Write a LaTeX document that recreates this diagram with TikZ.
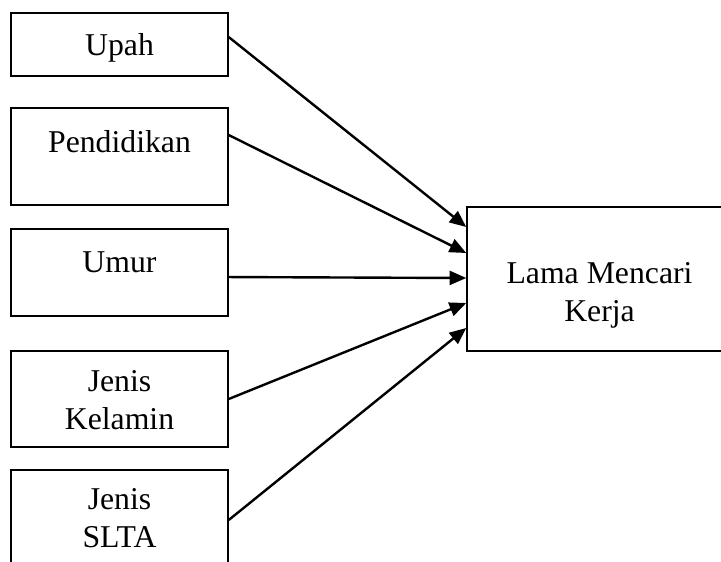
\documentclass[tikz,border=0pt]{standalone}
\usepackage{fontspec}
\setmainfont{Liberation Serif}
\usepackage{tikz}
\usetikzlibrary{arrows.meta}
\usetikzlibrary{positioning}

\begin{document}
\begin{tikzpicture}[x=0.75pt, y=-0.75pt,
  box/.style={draw, line width=1.1pt, minimum width=162.75pt, inner sep=0pt},
  txt/.style={font=\fontsize{23.8pt}{28.5pt}\selectfont, align=center, inner sep=0pt},
  arr/.style={line width=1.8pt, -{Triangle[length=12.5pt, width=10.5pt]}}]

  \useasboundingbox (0,0) rectangle (721,561);

  % ---------- Left side (factors) ----------

  % Shapes
  \node[box, minimum height=47.25pt] at (119.5, 44.5) (upah) {};
  \node[box, minimum height=72.75pt] at (119.5, 156.5) (pendidikan) {};
  \node[box, minimum height=65.25pt] at (119.5, 272.5) (umur) {};
  \node[box, minimum height=72pt] at (119.5, 399) (kelamin) {};
  \node[box, minimum height=73.5pt] at (119.5, 519) (slta) {};

  % Labels
  \node[txt, anchor=base] at (119.5, 55) (upahT) {Upah};
  \node[txt, anchor=base] at (119.5, 152) (pendidikanT) {Pendidikan};
  \node[txt, anchor=base] at (119.5, 272) (umurT) {Umur};
  \node[txt] at (119.5, 400) (kelaminT) {Jenis\\Kelamin};
  \node[txt] at (119.5, 518) (sltaT) {Jenis\\SLTA};

  % ---------- Right side (outcome) ----------
  \node[box, minimum width=198.75pt, minimum height=108pt] at (599.5, 279) (lama) {};
  \node[txt] at (599.5, 295) (lamaT) {Lama Mencari\\Kerja};

  % ---------- Arrows ----------
  \draw[arr] ([yshift=5.6pt]upah.east) -- ([yshift=39pt]lama.west);
  \draw[arr] ([yshift=16.1pt]pendidikan.east) -- ([yshift=19.5pt]lama.west);
  \draw[arr] ([yshift=-3.4pt]umur.east) -- ([yshift=0.75pt]lama.west);
  \draw[arr] (kelamin.east) -- ([yshift=-18pt]lama.west);
  \draw[arr] ([yshift=-0.75pt]slta.east) -- ([yshift=-36.75pt]lama.west);
\end{tikzpicture}
\end{document}
